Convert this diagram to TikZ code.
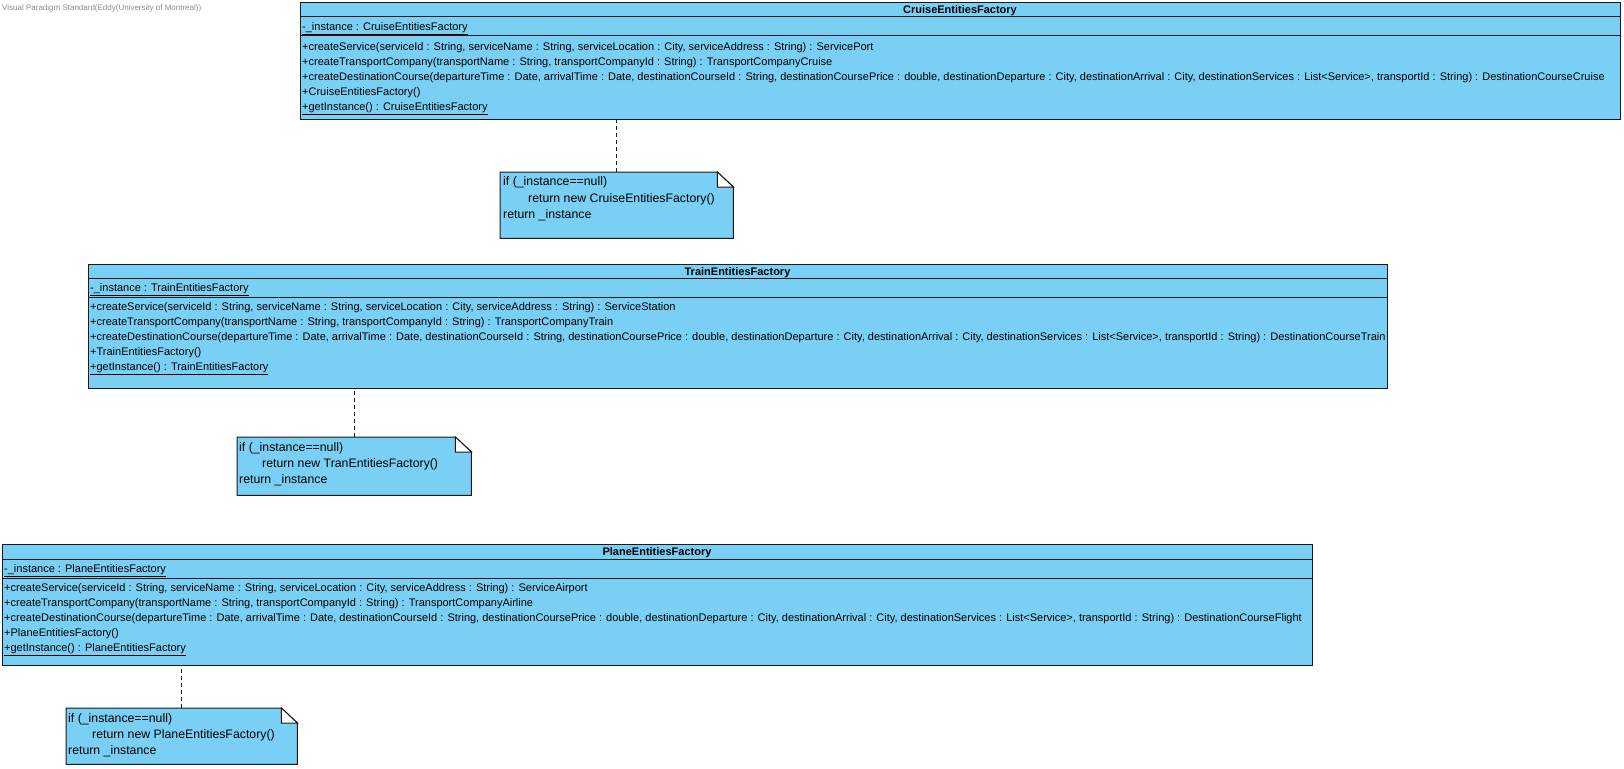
\documentclass[tikz,border=0pt]{standalone}
\usepackage{fontspec}
\usepackage{tikz}
\setmainfont{Liberation Sans}
\usetikzlibrary{calc}
\usetikzlibrary{positioning}
\definecolor{vp-fill}{HTML}{7ACFF5}
\definecolor{vp-line}{HTML}{1A1A1A}
\definecolor{vp-gray}{HTML}{8C8C8C}

\begin{document}
\begin{tikzpicture}[x=1bp, y=-1bp,
    classbox/.style={draw=vp-line, fill=vp-fill, line width=1bp, anchor=north west, inner sep=0pt},
    notebox/.style={anchor=north west, inner sep=0pt},
    member/.style={anchor=base west, inner sep=0pt, font=\fontsize{11bp}{13bp}\selectfont},
    classname/.style={anchor=base, inner sep=0pt, font=\bfseries\fontsize{11bp}{13bp}\selectfont},
    noteline/.style={anchor=base west, inner sep=0pt, font=\fontsize{12.3bp}{15bp}\selectfont},
    link/.style={draw=vp-line, line width=1bp, dash pattern=on 4bp off 3bp}
]

    \useasboundingbox[fill=white] (0,0) rectangle (1624,769);

    % watermark
    \node[member, font=\fontsize{8bp}{9bp}\selectfont, text=vp-gray] (mark) at (2,11) {Visual Paradigm Standard(Eddy(University of Montreal))};

    % cruise factory
    \node[classbox, minimum width=1320bp, minimum height=117bp] (cruise) at (300,2) {};
    \draw[draw=vp-line, line width=1bp] (300,17) -- (1620,17);
    \draw[draw=vp-line, line width=1bp] (300,36) -- (1620,36);
    \node[classname] (cruise-name) at (960,13.5) {CruiseEntitiesFactory};
    \node[member] (cruise-attr) at (302,30.5) {\underline{-\_instance : CruiseEntitiesFactory}};
    \node[member] (cruise-op1) at (302,50.5) {+createService(serviceId : String, serviceName : String, serviceLocation : City, serviceAddress : String) : ServicePort};
    \node[member] (cruise-op2) at (302,65.5) {+createTransportCompany(transportName : String, transportCompanyId : String) : TransportCompanyCruise};
    \node[member] (cruise-op3) at (302,80.5) {+createDestinationCourse(departureTime : Date, arrivalTime : Date, destinationCourseId : String, destinationCoursePrice : double, destinationDeparture : City, destinationArrival : City, destinationServices : List<Service>, transportId : String) : DestinationCourseCruise};
    \node[member] (cruise-op4) at (302,95.5) {+CruiseEntitiesFactory()};
    \node[member] (cruise-op5) at (302,110.5) {\underline{+getInstance() : CruiseEntitiesFactory}};

    % cruise note
    \node[notebox, minimum width=233bp, minimum height=66bp] (cruise-note) at (500,172) {};
    \draw[draw=vp-line, fill=vp-fill, line width=1bp] (cruise-note.north west) -- ([xshift=-16bp]cruise-note.north east) -- ([yshift=-15bp]cruise-note.north east) -- (cruise-note.south east) -- (cruise-note.south west) -- cycle;
    \draw[draw=vp-line, fill=white, line width=1bp] ([xshift=-16bp]cruise-note.north east) -- ([xshift=-16bp, yshift=-15bp]cruise-note.north east) -- ([yshift=-15bp]cruise-note.north east) -- cycle;
    \node[noteline] (cruise-l1) at (503,185.5) {if (\_instance==null)};
    \node[noteline] (cruise-l2) at (528,202) {return new CruiseEntitiesFactory()};
    \node[noteline] (cruise-l3) at (503,218.5) {return \_instance};
    \draw[link] (cruise-note.north) -- (cruise-note.north |- cruise.south);

    % train factory
    \node[classbox, minimum width=1299bp, minimum height=124bp] (train) at (88,264) {};
    \draw[draw=vp-line, line width=1bp] (88,278) -- (1387,278);
    \draw[draw=vp-line, line width=1bp] (88,297) -- (1387,297);
    \node[classname] (train-name) at (737.5,275) {TrainEntitiesFactory};
    \node[member] (train-attr) at (90,291.5) {\underline{-\_instance : TrainEntitiesFactory}};
    \node[member] (train-op1) at (90,310.5) {+createService(serviceId : String, serviceName : String, serviceLocation : City, serviceAddress : String) : ServiceStation};
    \node[member] (train-op2) at (90,325.5) {+createTransportCompany(transportName : String, transportCompanyId : String) : TransportCompanyTrain};
    \node[member] (train-op3) at (90,340.5) {+createDestinationCourse(departureTime : Date, arrivalTime : Date, destinationCourseId : String, destinationCoursePrice : double, destinationDeparture : City, destinationArrival : City, destinationServices : List<Service>, transportId : String) : DestinationCourseTrain};
    \node[member] (train-op4) at (90,355.5) {+TrainEntitiesFactory()};
    \node[member] (train-op5) at (90,370.5) {\underline{+getInstance() : TrainEntitiesFactory}};

    % train note
    \node[notebox, minimum width=234bp, minimum height=58bp] (train-note) at (237,437) {};
    \draw[draw=vp-line, fill=vp-fill, line width=1bp] (train-note.north west) -- ([xshift=-16bp]train-note.north east) -- ([yshift=-15bp]train-note.north east) -- (train-note.south east) -- (train-note.south west) -- cycle;
    \draw[draw=vp-line, fill=white, line width=1bp] ([xshift=-16bp]train-note.north east) -- ([xshift=-16bp, yshift=-15bp]train-note.north east) -- ([yshift=-15bp]train-note.north east) -- cycle;
    \node[noteline] (train-l1) at (239,451.5) {if (\_instance==null)};
    \node[noteline] (train-l2) at (262,467.5) {return new TranEntitiesFactory()};
    \node[noteline] (train-l3) at (239,483.5) {return \_instance};
    \draw[link] (train-note.north) -- (train-note.north |- train.south);

    % plane factory
    \node[classbox, minimum width=1310bp, minimum height=121bp] (plane) at (2,544) {};
    \draw[draw=vp-line, line width=1bp] (2,559) -- (1312,559);
    \draw[draw=vp-line, line width=1bp] (2,578) -- (1312,578);
    \node[classname] (plane-name) at (657,555.5) {PlaneEntitiesFactory};
    \node[member] (plane-attr) at (4,572.5) {\underline{-\_instance : PlaneEntitiesFactory}};
    \node[member] (plane-op1) at (4,591.5) {+createService(serviceId : String, serviceName : String, serviceLocation : City, serviceAddress : String) : ServiceAirport};
    \node[member] (plane-op2) at (4,606.5) {+createTransportCompany(transportName : String, transportCompanyId : String) : TransportCompanyAirline};
    \node[member] (plane-op3) at (4,621.5) {+createDestinationCourse(departureTime : Date, arrivalTime : Date, destinationCourseId : String, destinationCoursePrice : double, destinationDeparture : City, destinationArrival : City, destinationServices : List<Service>, transportId : String) : DestinationCourseFlight};
    \node[member] (plane-op4) at (4,636.5) {+PlaneEntitiesFactory()};
    \node[member] (plane-op5) at (4,651.5) {\underline{+getInstance() : PlaneEntitiesFactory}};

    % plane note
    \node[notebox, minimum width=231bp, minimum height=56bp] (plane-note) at (66,708) {};
    \draw[draw=vp-line, fill=vp-fill, line width=1bp] (plane-note.north west) -- ([xshift=-16bp]plane-note.north east) -- ([yshift=-15bp]plane-note.north east) -- (plane-note.south east) -- (plane-note.south west) -- cycle;
    \draw[draw=vp-line, fill=white, line width=1bp] ([xshift=-16bp]plane-note.north east) -- ([xshift=-16bp, yshift=-15bp]plane-note.north east) -- ([yshift=-15bp]plane-note.north east) -- cycle;
    \node[noteline] (plane-l1) at (68,722.5) {if (\_instance==null)};
    \node[noteline] (plane-l2) at (92,738.5) {return new PlaneEntitiesFactory()};
    \node[noteline] (plane-l3) at (68,754.5) {return \_instance};
    \draw[link] (plane-note.north) -- (plane-note.north |- plane.south);

\end{tikzpicture}
\end{document}
